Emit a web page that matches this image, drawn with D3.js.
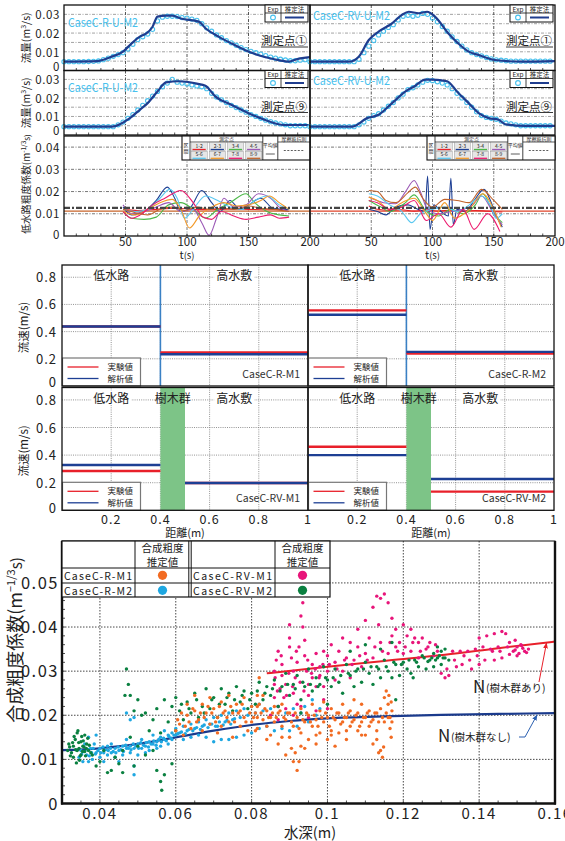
<!DOCTYPE html>
<meta charset="utf-8">
<style>
  body { margin: 0; background: #fff; }
  svg { display: block; background: #fff; }
  text { font-family: "Noto Sans CJK JP", "Noto Sans", sans-serif; }
</style>
<svg width="565" height="841"></svg>
<script src="https://d3js.org/d3.v7.min.js"></script>
<script>
// ---------- hydrographs (t [s], Q [m3/s]) ----------
const expT = [0,4,8,12,16,20,24,28,32,36,40,44,48,52,56,60,64,68,72,76,80,84,88,92,96,100,104,108,112,116,120,124,128,132,136,140,144,148,152,156,160,164,168,172,176,180,184,188,192,196];
const expR1 = [.0047,.0047,.0047,.0047,.0047,.0048,.0049,.0051,.0058,.0066,.0076,.0085,.0095,.0115,.014,.0165,.018,.0195,.022,.0265,.0285,.029,.029,.0288,.0283,.028,.0275,.0268,.025,.0228,.021,.019,.0175,.016,.0148,.0135,.0122,.0112,.0102,.0095,.0088,.008,.0072,.0066,.006,.0056,.0052,.0052,.0055,.0058];
const expRV1 = [.0047,.0047,.0047,.0047,.0047,.0047,.0047,.0047,.0047,.0047,.006,.0095,.013,.016,.019,.021,.023,.0245,.027,.029,.0295,.029,.0295,.0305,.03,.028,.026,.0235,.021,.018,.0155,.013,.011,.0095,.0085,.0078,.007,.0062,.0057,.0055,.0052,.005,.005,.005,.005,.005,.005,.005,.005,.005];
const expR9 = [.0045,.0045,.0045,.0045,.0045,.0045,.0045,.0045,.0045,.0045,.0045,.0055,.007,.009,.011,.0135,.016,.0185,.021,.0235,.026,.028,.03,.0285,.028,.0275,.027,.0265,.026,.025,.0225,.0205,.019,.0175,.016,.0148,.0135,.0123,.011,.01,.009,.008,.0072,.0065,.006,.0055,.005,.005,.005,.005];
const expRV9 = [.0045,.0045,.0045,.0045,.0045,.0045,.0045,.0045,.0045,.0045,.0055,.007,.009,.0105,.0115,.0135,.0155,.0175,.02,.022,.0245,.0255,.027,.0285,.0295,.0293,.0287,.028,.027,.025,.0225,.02,.0175,.015,.0125,.0105,.0095,.009,.0085,.0075,.0065,.006,.0055,.005,.005,.005,.005,.005,.005,.005];
const estR1 = [[0,.0047],[27,.005],[37.6,.0071],[48,.0101],[55,.0145],[61.6,.0181],[67,.0198],[72,.0234],[76,.0288],[83,.0293],[88,.0293],[95,.0278],[109.6,.0261],[115,.0226],[125.6,.0181],[136,.0145],[147,.011],[157.6,.0083],[171,.006],[183,.0047],[189,.006],[200,.0071]];
const estRV1 = [[0,.0047],[31.7,.0047],[39.8,.0074],[48,.0163],[56,.0208],[67,.0252],[75,.0297],[80.6,.0314],[88.7,.0306],[95.6,.0314],[102,.0288],[113,.0198],[121,.0145],[129.5,.0101],[137.7,.0083],[151,.0056],[173,.0047],[200,.005]];
const estR9 = [[0,.0045],[39,.0045],[53.6,.0091],[61.6,.0136],[68,.0172],[76,.0235],[83,.0284],[93.6,.029],[108,.0277],[115,.0266],[123,.0208],[136,.0163],[150,.0118],[163,.0082],[179,.0054],[200,.0054]];
const estRV9 = [[0,.0045],[34.4,.0045],[46.6,.0091],[56,.0109],[67,.0172],[78,.0235],[86,.0266],[94,.0299],[100,.0299],[112,.029],[120,.0235],[129.5,.0172],[137.7,.0118],[145.8,.0091],[154,.0082],[159.5,.0058],[175.8,.0049],[200,.0049]];
const flowTicks = [0, 0.01, 0.02, 0.03];
const flowGrid = [0.005, 0.01, 0.015, 0.02, 0.025, 0.03];
const timeTicks = [50, 100, 150, 200];
const timeGrid = [50, 100, 150];
const timeMinor = [10,20,30,40,50,60,70,80,90,100,110,120,130,140,150,160,170,180,190];

// ---------- low-channel roughness (t [s], n) ----------
const sections = ["1-2","2-3","3-4","4-5","5-6","6-7","7-8","8-9"];
const secColors = ["#e8232a","#1d3f94","#4cb848","#9b59b6","#5bc8f0","#f39a2a","#ec1a6e","#c0622b"];
const nR = [
  [[48,.012],[60,.0115],[75,.012],[90,.0125],[105,.012],[120,.0118],[135,.0122],[150,.012],[165,.0118],[183,.012]],
  [[48,.013],[55,.0095],[65,.011],[75,.016],[84,.022],[90,.017],[95,.011],[103,.013],[112,.0205],[120,.015],[127,.011],[135,.016],[143,.012],[150,.014],[160,.017],[170,.0125],[183,.012]],
  [[48,.011],[55,.008],[65,.0075],[75,.0085],[85,.014],[95,.015],[105,.012],[115,.008],[125,.012],[135,.015],[148,.019],[155,.015],[165,.011],[175,.0095],[183,.009]],
  [[48,.014],[55,.010],[65,.011],[75,.013],[85,.015],[95,.011],[105,.012],[112,.006],[118,.0003],[124,.008],[130,.017],[138,.013],[148,.014],[158,.019],[168,.017],[175,.013],[183,.011]],
  [[48,.012],[58,.011],[68,.012],[78,.017],[86,.021],[92,.017],[98,.008],[105,.012],[115,.018],[125,.016],[135,.013],[145,.012],[155,.016],[165,.018],[175,.014],[183,.012]],
  [[48,.011],[58,.0095],[68,.012],[78,.015],[88,.0165],[95,.012],[102,.0036],[110,.009],[120,.013],[130,.015],[140,.0135],[150,.014],[160,.016],[167,.018],[175,.015],[183,.012]],
  [[48,.011],[55,.008],[62,.0095],[72,.014],[82,.017],[95,.0205],[105,.015],[113,.0085],[120,.0075],[128,.011],[138,.009],[148,.0075],[158,.0085],[168,.0095],[175,.008],[183,.0085]],
  [[48,.012],[58,.0105],[68,.0095],[78,.012],[88,.013],[98,.0115],[108,.013],[118,.012],[128,.0125],[138,.012],[150,.0135],[160,.0125],[170,.012],[183,.011]]
];
const nRV = [
  [[48,.0135],[55,.012],[65,.0115],[75,.0118],[85,.0112],[95,.0118],[105,.0112],[115,.0116],[125,.0112],[135,.0115],[145,.0112],[157,.0108]],
  [[48,.012],[55,.011],[62,.0095],[70,.013],[80,.014],[88,.012],[94,.011],[96,.027],[98,.003],[101,.014],[107,.011],[113,.009],[115,.026],[117,.005],[120,.012],[127,.011],[134,.016],[142,.021],[148,.015],[153,.008],[157,.004]],
  [[48,.016],[58,.013],[65,.011],[78,.015],[85,.0185],[95,.011],[105,.009],[115,.012],[125,.01],[135,.014],[141,.019],[150,.01],[157,.006]],
  [[48,.0175],[60,.015],[70,.0145],[78,.02],[85,.025],[90,.02],[96,.012],[105,.01],[115,.011],[125,.012],[133,.014],[140,.018],[150,.01],[157,.005]],
  [[48,.019],[55,.018],[65,.014],[75,.011],[83,.006],[90,.01],[100,.012],[110,.013],[120,.011],[130,.014],[140,.018],[147,.014],[152,.008],[157,.01]],
  [[48,.0175],[55,.016],[65,.012],[75,.015],[85,.017],[95,.01],[100,.007],[110,.015],[118,.008],[130,.012],[141,.019],[150,.012],[156,.004]],
  [[48,.016],[55,.015],[65,.012],[75,.013],[85,.016],[95,.007],[105,.01],[115,.004],[125,.012],[134,.003],[145,.01],[155,.002]],
  [[48,.0205],[55,.02],[62,.016],[70,.015],[80,.0195],[86,.022],[92,.017],[100,.013],[110,.0165],[120,.016],[130,.015],[140,.021],[150,.016],[157,.012]]
];
const nMean = [0.0112, 0.0112];
const nFric = [0.0127, 0.0127];
const nTicks = [0, 0.01, 0.02, 0.03, 0.04];

// ---------- velocity (distance [m], V [m/s]) ----------
const velCase = ["CaseC-R-M1", "CaseC-R-M2", "CaseC-RV-M1", "CaseC-RV-M2"];
const velExpLow = [0.438, 0.556, 0.285, 0.461];
const velExpHigh = [0.246, 0.239, 0.198, 0.135];
const velAnlLow = [0.438, 0.524, 0.328, 0.400];
const velAnlHigh = [0.234, 0.251, 0.198, 0.227];
const treeZone = [0.4, 0.5];
const velTicks = [0, 0.2, 0.4, 0.6, 0.8];
const distTicks = [0.2, 0.4, 0.6, 0.8, 1];

// ---------- composite roughness vs depth ----------
const ptsRM2 = [[.0345,.0105],[.035,.012],[.0355,.0095],[.036,.0135],[.0365,.011],[.037,.015],[.037,.0095],[.0375,.0125],[.038,.01],[.0385,.0135],[.039,.0115],[.039,.0155],[.04,.0105],[.04,.0125],[.041,.0115],[.041,.0095],[.042,.013],[.042,.011],[.043,.0115],[.043,.0135],[.044,.0105],[.044,.0125],[.045,.012],[.045,.0095],[.046,.013],[.046,.011],[.047,.0125],[.047,.0145],[.047,.0205],[.048,.0115],[.048,.013],[.048,.019],[.049,.0125],[.049,.0085],[.049,.0065],[.049,.0195],[.05,.0135],[.05,.011],[.051,.0125],[.051,.0145],[.052,.013],[.052,.0115],[.053,.014],[.053,.012],[.054,.0135],[.054,.0155],[.055,.0125],[.055,.014],[.056,.015],[.056,.013],[.057,.0145],[.057,.0165],[.058,.0135],[.058,.0155],[.059,.016],[.059,.0145],[.06,.0155],[.06,.017],[.061,.016],[.062,.0175],[.062,.0145],[.063,.0165],[.064,.018],[.064,.015],[.065,.017],[.066,.0185],[.066,.0155],[.067,.0175],[.068,.019],[.068,.015],[.069,.018],[.07,.0195],[.07,.014],[.071,.0175],[.072,.02],[.072,.0145],[.073,.0185],[.074,.0205],[.074,.0145],[.075,.019],[.076,.021],[.076,.015],[.077,.0195],[.078,.0215],[.078,.0155],[.079,.02],[.08,.022],[.08,.016],[.081,.0205],[.082,.0225],[.082,.017],[.083,.021],[.084,.0175],[.085,.0215],[.086,.0165],[.087,.022],[.088,.017],[.089,.0205],[.09,.0165],[.091,.0215],[.092,.0175],[.093,.0205],[.094,.022],[.095,.0185],[.096,.0235],[.097,.02],[.098,.0215],
  [.0352,.0112],[.0358,.0118],[.0368,.0122],[.0372,.0108],[.0378,.0115],[.0382,.0125],[.0388,.0112],[.0395,.012],[.0402,.0115],[.0408,.0128],[.0415,.0122],[.0422,.012],[.0428,.0125],[.0435,.0118],[.0442,.0115],[.0448,.0128],[.0455,.0122],[.0462,.0118],[.0468,.0132],[.0475,.0125],[.0482,.0122],[.0488,.0135],[.0495,.013],[.0502,.0125],[.0508,.0138],[.0515,.0132],[.0522,.0138],[.0528,.0128],[.0535,.0135],[.0542,.0142],[.0548,.0132],[.0555,.0145],[.0562,.014],[.0568,.0148],[.0575,.0142],[.0582,.0152],[.0588,.0148],[.0595,.0155],[.0605,.0158],[.0615,.0162],[.0625,.0158],[.0635,.0168],[.0645,.0165],[.0655,.0172],[.0665,.0168],[.0675,.0178],[.0685,.0172],[.0695,.018],[.0705,.0175],[.0715,.0185],[.0725,.0178],[.0735,.0188],[.0745,.018],[.0755,.0192]];
const ptsRM1 = [[.06,.0165],[.061,.018],[.062,.0155],[.063,.02],[.063,.0225],[.064,.017],[.065,.021],[.065,.0245],[.066,.019],[.067,.0225],[.067,.0165],[.068,.0205],[.069,.024],[.069,.018],[.07,.0215],[.071,.0195],[.071,.016],[.072,.023],[.072,.0175],[.073,.021],[.074,.0245],[.074,.0185],[.075,.0205],[.075,.015],[.076,.0225],[.077,.0175],[.077,.021],[.078,.0195],[.078,.024],[.079,.0165],[.08,.022],[.08,.0185],[.081,.0205],[.081,.0165],[.0815,.017],[.0815,.0195],[.0815,.022],[.0815,.0245],[.082,.0285],[.082,.0225],[.083,.019],[.083,.0245],[.084,.0175],[.084,.021],[.085,.0195],[.085,.0155],[.086,.022],[.086,.0185],[.087,.0205],[.087,.0135],[.088,.0175],[.088,.0225],[.089,.019],[.089,.011],[.09,.0205],[.09,.015],[.091,.0175],[.091,.0095],[.092,.0075],[.092,.0195],[.093,.0215],[.093,.016],[.094,.0185],[.094,.0125],[.095,.02],[.095,.0145],[.096,.0175],[.096,.0225],[.097,.019],[.097,.0135],[.098,.021],[.098,.016],[.099,.0185],[.099,.023],[.1,.0195],[.1,.0145],[.101,.0215],[.101,.0165],[.102,.019],[.102,.013],[.103,.0205],[.103,.016],[.104,.0225],[.104,.0185],[.105,.0195],[.105,.0145],[.106,.021],[.106,.0175],[.107,.019],[.107,.0235],[.108,.0165],[.108,.0205],[.109,.0185],[.109,.0225],[.11,.0195],[.11,.0155],[.111,.021],[.111,.0175],[.112,.019],[.112,.0135],[.113,.0205],[.113,.0165],[.114,.0215],[.114,.012],[.1145,.0105],[.115,.0185],[.115,.024],[.1155,.0255],[.116,.0225],[.116,.0195],[.1165,.017],[.117,.021],[.117,.0185],
  [.0605,.019],[.0615,.0205],[.0625,.0175],[.0635,.0185],[.0645,.0215],[.0655,.0185],[.0665,.0205],[.0675,.0195],[.0685,.022],[.0695,.0205],[.0705,.0185],[.0715,.022],[.0725,.0205],[.0735,.0195],[.0745,.022],[.0755,.0185],[.0765,.0205],[.0775,.0225],[.0785,.0185],[.0795,.0205],[.0805,.0195],[.0825,.0205],[.0835,.0215],[.0845,.0195],[.0855,.0205],[.0865,.0195],[.0875,.021],[.0885,.0195],[.0895,.0205],[.0905,.0185],[.0915,.0205],[.0925,.017],[.0935,.019],[.0945,.0205],[.0955,.0185],[.0965,.02],[.0975,.0175],[.0985,.0195],[.0995,.0205],[.1005,.0175],[.1015,.0195],[.1025,.0205],[.1035,.018],[.1045,.0195],[.1055,.0205],[.1065,.0185],[.1075,.02],[.1085,.0175],[.1095,.0195],[.1105,.0205],[.1115,.0185],[.1125,.0205],[.1135,.0185],[.1145,.0195],[.1155,.0205],[.1165,.0195],[.1168,.023],[.1168,.015],[.1162,.0245],[.113,.0145],[.109,.0155],[.105,.0165],[.101,.0155],[.097,.0155],[.093,.013],[.0915,.0115],[.0925,.0095],[.0905,.0125],[.088,.015],[.084,.0145],[.1135,.0115],[.1148,.0128]];
const ptsRVM1 = [[.085,.02],[.086,.024],[.086,.027],[.086,.03],[.0865,.0325],[.087,.0345],[.087,.022],[.087,.019],[.0875,.026],[.088,.029],[.088,.0315],[.0885,.024],[.089,.027],[.089,.0215],[.09,.0405],[.09,.0375],[.09,.0355],[.0905,.033],[.091,.03],[.091,.025],[.091,.02],[.0915,.0285],[.092,.0225],[.092,.032],[.0925,.0355],[.093,.0425],[.093,.022],[.0935,.0455],[.0935,.04],[.094,.037],[.094,.0335],[.0945,.03],[.095,.027],[.095,.0245],[.095,.0195],[.096,.0315],[.096,.0285],[.097,.034],[.097,.0265],[.097,.021],[.098,.031],[.098,.029],[.099,.0345],[.099,.0265],[.099,.0235],[.1,.03],[.1,.0335],[.1,.0215],[.101,.036],[.102,.028],[.102,.032],[.103,.0345],[.104,.0375],[.104,.03],[.105,.033],[.106,.0365],[.106,.0285],[.107,.0325],[.108,.0355],[.108,.0395],[.109,.031],[.11,.034],[.11,.0415],[.111,.0375],[.112,.0445],[.112,.033],[.113,.047],[.1135,.0405],[.114,.0465],[.114,.0365],[.115,.0475],[.116,.0455],[.116,.034],[.117,.042],[.117,.038],[.118,.0395],[.118,.0355],[.119,.0365],[.12,.0405],[.12,.034],[.121,.038],[.122,.0395],[.122,.0345],[.123,.0375],[.124,.0365],[.124,.033],[.125,.0375],[.126,.035],[.127,.0365],[.128,.0335],[.129,.0345],[.13,.0295],[.131,.0285],[.132,.029],[.133,.0345],[.134,.031],[.135,.0345],[.136,.0335],[.137,.0345],[.138,.0305],[.139,.035],[.14,.0375],[.14,.0315],[.141,.0355],[.142,.038],[.143,.035],[.144,.0385],[.144,.0325],[.145,.0355],[.146,.039],[.146,.033],[.147,.0385],[.148,.0365],[.148,.0338],[.149,.0345],[.1495,.037],[.15,.0355],[.15,.0335],[.1505,.034],[.151,.036],[.1515,.0352],[.152,.0345],[.153,.035],
  [.0862,.0285],[.0868,.0255],[.0878,.0335],[.0892,.0245],[.0898,.0295],[.0908,.0265],[.0918,.0345],[.0928,.0275],[.0938,.0255],[.0948,.0325],[.0958,.0295],[.0968,.0305],[.0978,.0285],[.0988,.0315],[.1005,.0315],[.1025,.0305],[.1045,.0325],[.1065,.0315],[.1085,.0335],[.1105,.0325],[.1125,.0355],[.1145,.0345],[.1165,.0365],[.1185,.0345],[.1205,.0355],[.1225,.0365],[.1245,.0345],[.1265,.0355],[.1285,.036],[.1315,.0305],[.1335,.0325],[.1355,.0315],[.1375,.0325],[.1395,.0335],[.1415,.0325],[.1435,.0345],[.1455,.0345],[.1475,.0355],[.1495,.0348],[.1512,.0358],[.1525,.0342]];
const ptsRVM2 = [[.0315,.012],[.032,.0128],[.0325,.0115],[.0328,.0138],[.033,.013],[.033,.0105],[.0335,.0145],[.0338,.0092],[.034,.012],[.034,.016],[.0342,.0165],[.0345,.0125],[.0348,.0108],[.035,.014],[.035,.011],[.0352,.0152],[.0355,.013],[.0358,.0128],[.036,.0155],[.036,.0118],[.0362,.0108],[.0365,.0135],[.0368,.0148],[.037,.012],[.038,.011],[.039,.0085],[.04,.0095],[.041,.012],[.042,.007],[.043,.0075],[.044,.0105],[.045,.009],[.046,.012],[.046,.007],[.0466,.0245],[.047,.0305],[.0475,.027],[.048,.0245],[.048,.015],[.049,.021],[.049,.0085],[.05,.0235],[.05,.013],[.051,.02],[.052,.0205],[.052,.011],[.053,.0165],[.054,.019],[.054,.012],[.055,.0215],[.055,.0075],[.056,.005],[.0563,.003],[.056,.016],[.057,.0065],[.057,.0235],[.058,.0185],[.059,.009],[.059,.022],[.06,.0165],[.06,.024],[.061,.021],[.062,.019],[.063,.023],[.064,.0205],[.065,.025],[.066,.0195],[.067,.022],[.068,.026],[.069,.0215],[.07,.024],[.071,.0195],[.072,.026],[.073,.0225],[.074,.025],[.075,.021],[.076,.0265],[.077,.023],[.078,.0255],[.079,.0215],[.08,.025],[.081,.0225],[.082,.0275],[.083,.0235],[.084,.0265],[.085,.0245],[.086,.028],[.087,.022],[.088,.0265],[.089,.0295],[.09,.0245],[.091,.027],[.092,.029],[.093,.0205],[.093,.0235],[.094,.0265],[.095,.0305],[.096,.0255],[.097,.0285],[.098,.027],[.099,.031],[.1,.0225],[.1,.028],[.101,.0265],[.102,.0305],[.103,.0275],[.104,.025],[.105,.0315],[.106,.029],[.106,.0345],[.107,.0265],[.108,.0305],[.109,.0275],[.11,.032],[.11,.036],[.111,.0295],[.112,.027],[.113,.031],[.114,.0285],[.114,.035],[.115,.0325],[.116,.03],[.117,.0285],[.117,.0365],[.118,.0235],[.118,.0315],[.119,.029],[.12,.032],[.121,.0305],[.122,.0295],[.1226,.0285],[.123,.0325],[.124,.031],[.125,.0335],[.126,.0305],[.127,.0325],[.128,.034],[.128,.031],[.129,.033],[.129,.0355],[.13,.0345],[.13,.0315],[.131,.033],[.131,.035],[.132,.0325],
  [.0318,.0135],[.0322,.0108],[.0332,.0152],[.0336,.0122],[.0344,.0138],[.0346,.0098],[.0354,.0118],[.0356,.0142],[.0364,.0125],[.0372,.0132],[.0376,.0115],[.0615,.0225],[.0635,.0215],[.0655,.0235],[.0675,.0205],[.0695,.0235],[.0715,.0225],[.0735,.024],[.0755,.0235],[.0775,.0245],[.0795,.0235],[.0815,.0255],[.0835,.025],[.0855,.026],[.0875,.0255],[.0895,.027],[.0915,.026],[.0935,.0275],[.0955,.027],[.0975,.0265],[.0995,.0285],[.1015,.0285],[.1035,.029],[.1055,.0295],[.1075,.03],[.1095,.0305],[.1115,.031],[.1135,.0305],[.1155,.031],[.1175,.032],[.1195,.0315],[.1215,.0325],[.1235,.032],[.1255,.033],[.1275,.033],[.1295,.0335],[.1305,.033],[.1285,.0325],[.1265,.0322]];
const lineWithTrees = [[.084,.0295],[.1,.031],[.115,.0323],[.131,.0337],[.145,.0352],[.16,.0367]];
const lineNoTrees = [[.03,.0121],[.04,.0125],[.05,.0135],[.06,.015],[.07,.0165],[.08,.0178],[.09,.0187],[.1,.0193],[.117,.0198],[.13,.0201],[.145,.0203],[.16,.0205]];
const depthTicks = [0.04, 0.06, 0.08, 0.1, 0.12, 0.14, 0.16];
const compTicks = [0, 0.01, 0.02, 0.03, 0.04, 0.05];

const svg = d3.select("svg");
const DARK = "#1f3d8f", LIGHT = "#47c1ee", RED = "#e8202a", VBLUE = "#1d3f94";
const fmt = d => d === 0 ? "0" : String(d);

function txt(g, x, y, s, size, anchor) {
  return g.append("text").attr("x", x).attr("y", y).attr("font-size", size).attr("fill", "#222")
    .attr("text-anchor", anchor || "start").text(s);
}
function hline(g, x1, x2, y, color, w, dash) {
  return g.append("line").attr("x1", x1).attr("x2", x2).attr("y1", y).attr("y2", y)
    .attr("stroke", color).attr("stroke-width", w).attr("stroke-dasharray", dash || null);
}
function vline(g, x, y1, y2, color, w, dash) {
  return g.append("line").attr("x1", x).attr("x2", x).attr("y1", y1).attr("y2", y2)
    .attr("stroke", color).attr("stroke-width", w).attr("stroke-dasharray", dash || null);
}

// ================= hydrograph panels =================
function flowPanel(p) {
  const x = d3.scaleLinear().domain([0, 200]).range([p.x0, p.x1]);
  const y = d3.scaleLinear().domain([0, p.yMax]).range([p.y1, p.y0]);
  const g = svg.append("g");
  flowGrid.forEach(v => hline(g, p.x0, p.x1, y(v), "#8a8a8a", 0.8, "3,1.5,1,1.5"));
  timeGrid.forEach(v => vline(g, x(v), p.y0, p.y1, "#444", 0.9, "3,1.5,1,1.5"));
  timeMinor.forEach(v => vline(g, x(v), p.y1, p.y1 - 2.5, "#222", 0.8));
  txt(g, p.x0 + p.cx, p.y0 + p.cy, p.caseName, 12).attr("fill", LIGHT)
    .attr("textLength", p.cw).attr("lengthAdjust", "spacingAndGlyphs");
  g.selectAll(null).data(expT).join("circle")
    .attr("cx", d => x(d)).attr("cy", (d, i) => y(p.exp[i])).attr("r", 2.1)
    .attr("fill", "none").attr("stroke", LIGHT).attr("stroke-width", 1.1);
  g.append("path").datum(p.line)
    .attr("d", d3.line().x(d => x(d[0])).y(d => y(d[1])).curve(d3.curveMonotoneX))
    .attr("fill", "none").attr("stroke", DARK).attr("stroke-width", 2.2);
  g.append("rect").attr("x", p.x0).attr("y", p.y0).attr("width", p.x1 - p.x0).attr("height", p.y1 - p.y0)
    .attr("fill", "none").attr("stroke", "#111").attr("stroke-width", 1.3);
  const lx = p.x1 - 45, ly = p.y0;
  g.append("rect").attr("x", lx).attr("y", ly).attr("width", 43).attr("height", 17)
    .attr("fill", "#fff").attr("stroke", "#111").attr("stroke-width", 1);
  vline(g, lx + 16, ly, ly + 17, "#111", 0.8);
  hline(g, lx, lx + 43, ly + 8, "#111", 0.8);
  txt(g, lx + 8, ly + 6.5, "Exp", 6.5, "middle");
  txt(g, lx + 29.5, ly + 6.5, "推定法", 6.5, "middle");
  g.append("circle").attr("cx", lx + 8).attr("cy", ly + 12.5).attr("r", 2.4)
    .attr("fill", "none").attr("stroke", LIGHT).attr("stroke-width", 1.1);
  hline(g, lx + 20, lx + 39, ly + 12.5, DARK, 2);
  txt(g, p.x1 - 3, p.y0 + 40, p.ptLabel, 11.5, "end");
  hline(g, p.x1 - 49, p.x1 - 2, p.y0 + 42, "#222", 0.9);
  if (p.showY) {
    flowTicks.forEach(v => txt(g, p.x0 - 4, y(v) + (v === 0 ? 0 : 5), fmt(v), 11.5, "end").attr("letter-spacing", 0.6));
    const t = g.append("text").attr("font-size", 10.5).attr("fill", "#222").attr("text-anchor", "middle")
      .attr("transform", `translate(30,${(p.y0 + p.y1) / 2}) rotate(-90)`);
    t.append("tspan").text("流量(m");
    t.append("tspan").attr("font-size", 7).attr("dy", -4).text("3");
    t.append("tspan").attr("dy", 4).text("/s)");
  }
}
flowPanel({x0: 64, x1: 310, y0: 5, y1: 70.5, yMax: 0.035, line: estR1, exp: expR1,
  caseName: "CaseC-R-U-M2", ptLabel: "測定点①", showY: true, cx: 4, cy: 21.5, cw: 70});
flowPanel({x0: 310, x1: 555, y0: 5, y1: 70.5, yMax: 0.035, line: estRV1, exp: expRV1,
  caseName: "CaseC-RV-U-M2", ptLabel: "測定点①", showY: false, cx: 3, cy: 15, cw: 77});
flowPanel({x0: 64, x1: 310, y0: 70.5, y1: 135, yMax: 0.0348, line: estR9, exp: expR9,
  caseName: "CaseC-R-U-M2", ptLabel: "測定点⑨", showY: true, cx: 4, cy: 21, cw: 70});
flowPanel({x0: 310, x1: 555, y0: 70.5, y1: 135, yMax: 0.0348, line: estRV9, exp: expRV9,
  caseName: "CaseC-RV-U-M2", ptLabel: "測定点⑨", showY: false, cx: 3, cy: 14, cw: 77});

// ================= roughness panels =================
function roughLegend(x0, y0) {
  const g = svg.append("g");
  const w = 128, h = 24, cx0 = x0 + 8, cw = 18.2, cx1 = cx0 + 4 * cw, mx1 = cx1 + 15;
  g.append("rect").attr("x", x0).attr("y", y0).attr("width", w).attr("height", h)
    .attr("fill", "#fff").attr("stroke", "#111").attr("stroke-width", 1.1);
  [cx0, cx1, mx1].forEach(v => vline(g, v, y0, y0 + h, "#111", 0.8));
  hline(g, cx0, cx1, y0 + 6, "#111", 0.7);
  hline(g, mx1, x0 + w, y0 + 6, "#111", 0.7);
  txt(g, x0 + 4, y0 + 11, "区", 5, "middle");
  txt(g, x0 + 4, y0 + 17, "間", 5, "middle");
  txt(g, (cx0 + cx1) / 2, y0 + 5, "測定点", 5, "middle");
  txt(g, (mx1 + x0 + w) / 2, y0 + 5, "摩擦抵抗則", 5, "middle");
  sections.forEach((s, i) => {
    const r = Math.floor(i / 4), c = i % 4;
    const bx = cx0 + c * cw + 1, by = y0 + 6.5 + r * 8.8;
    g.append("rect").attr("x", bx).attr("y", by).attr("width", cw - 2).attr("height", 7.8)
      .attr("fill", "#e6e6e6").attr("stroke", "#888").attr("stroke-width", 0.4);
    txt(g, bx + (cw - 2) / 2, by + 5, s, 5, "middle");
    hline(g, bx + 1.5, bx + cw - 3.5, by + 7, secColors[i], 1.3);
  });
  txt(g, (cx1 + mx1) / 2, y0 + 11, "平均値", 5, "middle");
  hline(g, cx1 + 3, mx1 - 3, y0 + 18, "#333", 0.8);
  hline(g, mx1 + 6, x0 + w - 6, y0 + 14.5, "#333", 0.8, "2,1.5");
}
function roughPanel(p) {
  const x = d3.scaleLinear().domain([0, 200]).range([p.x0, p.x1]);
  const y = d3.scaleLinear().domain([0, 0.045]).range([p.y1, p.y0]);
  const g = svg.append("g");
  nTicks.slice(1).forEach(v => hline(g, p.x0, p.x1, y(v), "#555", 0.8, "3,1.5,1,1.5"));
  timeGrid.forEach(v => vline(g, x(v), p.y0, p.y1, "#555", 0.8, "3,1.5,1,1.5"));
  timeMinor.forEach(v => vline(g, x(v), p.y1, p.y1 - 2.5, "#222", 0.8));
  hline(g, p.x0, p.x1, y(nMean[p.k]), p.meanColor, 1.1);
  p.data.forEach((ser, i) => {
    g.append("path").datum(ser)
      .attr("d", d3.line().x(d => x(d[0])).y(d => y(d[1])).curve(d3.curveMonotoneX))
      .attr("fill", "none").attr("stroke", secColors[i]).attr("stroke-width", 1.1);
  });
  hline(g, p.x0, p.x1, y(nFric[p.k]), "#444", 2.2, "6,2,2,2");
  g.append("rect").attr("x", p.x0).attr("y", p.y0).attr("width", p.x1 - p.x0).attr("height", p.y1 - p.y0)
    .attr("fill", "none").attr("stroke", "#111").attr("stroke-width", 1.3);
  roughLegend(p.x1 - 128, p.y0);
  timeTicks.forEach(v => txt(g, x(v), p.y1 + 9.5, String(v), 11.5, "middle"));
  const tl = g.append("text").attr("x", (p.x0 + p.x1) / 2).attr("y", p.y1 + 22.5).attr("fill", "#222")
    .attr("font-size", 11).attr("text-anchor", "middle");
  tl.append("tspan").text("t");
  tl.append("tspan").attr("font-size", 9.5).text("(s)");
  if (p.showY) {
    nTicks.forEach(v => txt(g, p.x0 - 4, y(v) + (v === 0 ? 3 : 4.5), fmt(v), 11.5, "end").attr("letter-spacing", 0.6));
    const t = g.append("text").attr("font-size", 9.8).attr("fill", "#222").attr("text-anchor", "middle")
      .attr("transform", `translate(30,${(p.y0 + p.y1) / 2 - 2}) rotate(-90)`);
    t.append("tspan").text("低水路粗度係数(m");
    t.append("tspan").attr("font-size", 6.5).attr("dy", -4).text("-1/3");
    t.append("tspan").attr("font-size", 8).attr("dy", 4).text("s)");
  }
}
roughPanel({x0: 64, x1: 310, y0: 136, y1: 236, data: nR, k: 0, meanColor: "#c8652a", showY: true});
roughPanel({x0: 310, x1: 555, y0: 136, y1: 236, data: nRV, k: 1, meanColor: "#e0452a", showY: false});

// ================= velocity panels =================
function velPanel(p) {
  const k = p.k, isRV = k >= 2;
  const x = d3.scaleLinear().domain([0, 1]).range([p.x0, p.x1]);
  const y = d3.scaleLinear().domain([0, 0.89]).range([p.y1, p.y0]);
  const g = svg.append("g");
  velTicks.slice(1).forEach(v => hline(g, p.x0, p.x1, y(v), "#777", 0.8, "1,1.2"));
  distTicks.slice(0, 4).forEach(v => vline(g, x(v), p.y0, p.y1, "#777", 0.8, "1,1.2"));
  if (isRV) {
    g.append("rect").attr("x", x(treeZone[0])).attr("y", p.y0).attr("width", x(treeZone[1]) - x(treeZone[0]))
      .attr("height", p.y1 - p.y0).attr("fill", "#7dc487");
  } else {
    vline(g, x(treeZone[0]), p.y0, p.y1, "#3a80c4", 1.6);
  }
  const hiStart = isRV ? treeZone[1] : treeZone[0];
  hline(g, x(0), x(treeZone[0]), y(velExpLow[k]), RED, 2.4);
  hline(g, x(hiStart), x(1), y(velExpHigh[k]), RED, 2.4);
  hline(g, x(0), x(treeZone[0]), y(velAnlLow[k]), VBLUE, 2.4);
  hline(g, x(hiStart), x(1), y(velAnlHigh[k]), VBLUE, 2.4);
  const labs = isRV ? [["低水路", 0.2], ["樹木群", 0.45], ["高水敷", 0.7]] : [["低水路", 0.2], ["高水敷", 0.7]];
  labs.forEach(([s, v]) => {
    if (!(isRV && v === 0.45)) g.append("rect").attr("x", x(v) - 20).attr("y", p.y0 + 3)
      .attr("width", 40).attr("height", 14).attr("fill", "#fff");
    txt(g, x(v), p.y0 + 15, s, 12, "middle");
  });
  const lx = p.x0 + 0.5, ly = p.y1 - 28;
  g.append("rect").attr("x", lx).attr("y", ly).attr("width", 78).attr("height", 28)
    .attr("fill", "#fff").attr("stroke", "#777").attr("stroke-width", 1.2);
  hline(g, lx + 5, lx + 36, ly + 9, RED, 1.3);
  hline(g, lx + 5, lx + 36, ly + 20.5, VBLUE, 1.3);
  txt(g, lx + 45, ly + 12, "実験値", 8.5);
  txt(g, lx + 45, ly + 23.5, "解析値", 8.5);
  txt(g, p.x1 - 8, p.y1 - 8, velCase[k], 10.5, "end").attr("fill", "#333");
  g.append("rect").attr("x", p.x0).attr("y", p.y0).attr("width", p.x1 - p.x0).attr("height", p.y1 - p.y0)
    .attr("fill", "none").attr("stroke", "#111").attr("stroke-width", 1.3);
  if (p.showY) {
    velTicks.forEach(v => txt(g, p.x0 - 5, y(v) + (v === 0 ? (p.showX ? 3 : 1) : 5), fmt(v), 13, "end").attr("letter-spacing", 1));
    g.append("text").attr("font-size", 11.5).attr("fill", "#222").attr("text-anchor", "middle")
      .attr("transform", `translate(28,${(p.y0 + p.y1) / 2 + 2}) rotate(-90)`).text("流速(m/s)");
  }
  if (p.showX) {
    distTicks.forEach(v => txt(g, x(v), p.y1 + 14, fmt(v), 12.5, "middle").attr("letter-spacing", 1));
    txt(g, (p.x0 + p.x1) / 2, p.y1 + 26.5, "距離(m)", 11, "middle");
  }
}
velPanel({x0: 62, x1: 308, y0: 265, y1: 386, k: 0, showY: true, showX: false});
velPanel({x0: 308, x1: 554, y0: 265, y1: 386, k: 1, showY: false, showX: false});
velPanel({x0: 62, x1: 308, y0: 387.5, y1: 510.3, k: 2, showY: true, showX: true});
velPanel({x0: 308, x1: 554, y0: 387.5, y1: 510.3, k: 3, showY: false, showX: true});

// ================= composite roughness scatter =================
(function () {
  const x0 = 62, x1 = 555, y0 = 541, y1 = 803.5;
  const x = d3.scaleLinear().domain([0.03, 0.16]).range([x0, x1]);
  const y = d3.scaleLinear().domain([0, 0.0595]).range([y1, y0]);
  const g = svg.append("g");
  const defs = svg.append("defs");
  [["arR", RED], ["arB", "#2a5fb0"]].forEach(([id, c]) => {
    defs.append("marker").attr("id", id).attr("viewBox", "0 0 10 10").attr("refX", 9).attr("refY", 5)
      .attr("markerWidth", 6).attr("markerHeight", 6).attr("orient", "auto")
      .append("path").attr("d", "M0,1 L10,5 L0,9 Z").attr("fill", c);
  });
  compTicks.slice(1).forEach(v => hline(g, x0, x1, y(v), "#333", 0.9, "1.5,1.5"));
  depthTicks.slice(0, 6).forEach(v => vline(g, x(v), y0, y1, "#333", 0.9, "1.5,1.5"));
  d3.range(0, 0.0595, 0.002).forEach(v => hline(g, x0, x0 + 3, y(v), "#222", 0.8));
  d3.range(0.035, 0.16, 0.005).forEach(v => vline(g, x(v), y1, y1 - 3, "#222", 0.8));
  const ln = d3.line().x(d => x(d[0])).y(d => y(d[1])).curve(d3.curveMonotoneX);
  g.append("path").datum(lineNoTrees).attr("d", ln).attr("fill", "none").attr("stroke", "#1a3a8c").attr("stroke-width", 2.2);
  g.append("path").datum(lineWithTrees).attr("d", ln).attr("fill", "none").attr("stroke", RED).attr("stroke-width", 2);
  const series = [[ptsRM2, "#1ea7e1"], [ptsRVM1, "#e8157a"], [ptsRVM2, "#0a8040"], [ptsRM1, "#f26b22"]];
  series.forEach(([pts, c]) => {
    g.selectAll(null).data(pts).join("circle")
      .attr("cx", d => x(d[0])).attr("cy", d => y(d[1])).attr("r", 1.7).attr("fill", c);
  });
  g.append("rect").attr("x", x0).attr("y", y0).attr("width", x1 - x0).attr("height", y1 - y0)
    .attr("fill", "none").attr("stroke", "#111").attr("stroke-width", 1);
  vline(g, x0, y0, y1 + 1, "#111", 2.4);
  vline(g, x1, y0, y1 + 1, "#111", 2.4);
  hline(g, x0 - 1, x1 + 1, y1, "#111", 2.4);

  compTicks.forEach(v => txt(g, x0 - 3, y(v) + 6, fmt(v), 16.5, "end").attr("letter-spacing", 1.5));
  depthTicks.forEach(v => txt(g, x(v), y1 + 15.5, fmt(v), 15, "middle").attr("letter-spacing", 1.5));
  txt(g, 310, 838, "水深(m)", 14.5, "middle");
  const t = g.append("text").attr("font-size", 18).attr("fill", "#222").attr("text-anchor", "middle")
    .attr("transform", `translate(22,640) rotate(-90)`);
  t.append("tspan").text("合成粗度係数(m");
  t.append("tspan").attr("font-size", 11).attr("dy", -7).text("−1/3");
  t.append("tspan").attr("font-size", 15).attr("dy", 7).text("s)");

  const cols = [62, 135, 190, 275, 330], rows = [541, 568, 583, 597];
  g.append("rect").attr("x", cols[0]).attr("y", rows[0]).attr("width", cols[4] - cols[0]).attr("height", rows[3] - rows[0])
    .attr("fill", "#fff").attr("stroke", "#111").attr("stroke-width", 1.2);
  [cols[1], cols[3]].forEach(v => vline(g, v, rows[0], rows[3], "#111", 1));
  vline(g, cols[2] - 1.2, rows[0], rows[3], "#111", 1);
  vline(g, cols[2] + 1.2, rows[0], rows[3], "#111", 1);
  hline(g, cols[0], cols[4], rows[1], "#111", 1);
  hline(g, cols[0], cols[4], rows[2], "#111", 1);
  [[cols[1], cols[2]], [cols[3], cols[4]]].forEach(([a, b]) => {
    txt(g, (a + b) / 2, rows[0] + 11, "合成粗度", 10.5, "middle");
    txt(g, (a + b) / 2, rows[0] + 24.5, "推定値", 10.5, "middle");
  });
  const legCells = [["CaseC-R-M1", "#f26b22", 0, 0], ["CaseC-R-M2", "#1ea7e1", 0, 1],
                    ["CaseC-RV-M1", "#e8157a", 2, 0], ["CaseC-RV-M2", "#0a8040", 2, 1]];
  legCells.forEach(([s, c, ci, ri]) => {
    const a = cols[ci] + (ci === 2 ? 3 : 2), b = cols[ci + 1] - 3;
    txt(g, a, rows[ri + 1] + 11.5, s, 10.5).attr("textLength", b - a).attr("lengthAdjust", "spacing");
    g.append("circle").attr("cx", (cols[ci + 1] + cols[ci + 2]) / 2).attr("cy", rows[ri + 1] + 7.3)
      .attr("r", 4.6).attr("fill", c);
  });

  txt(g, 473, 693, "N", 17);
  txt(g, 486, 692, "(樹木群あり)", 10.5);
  g.append("line").attr("x1", 539).attr("y1", 682).attr("x2", 546.5).attr("y2", 643)
    .attr("stroke", RED).attr("stroke-width", 1).attr("marker-end", "url(#arR)");
  txt(g, 438, 742, "N", 17);
  txt(g, 451, 741, "(樹木群なし)", 10.5);
  g.append("path").attr("d", "M519,737 L525,737 L537,715").attr("fill", "none")
    .attr("stroke", "#2a5fb0").attr("stroke-width", 1).attr("marker-end", "url(#arB)");
})();
</script>
